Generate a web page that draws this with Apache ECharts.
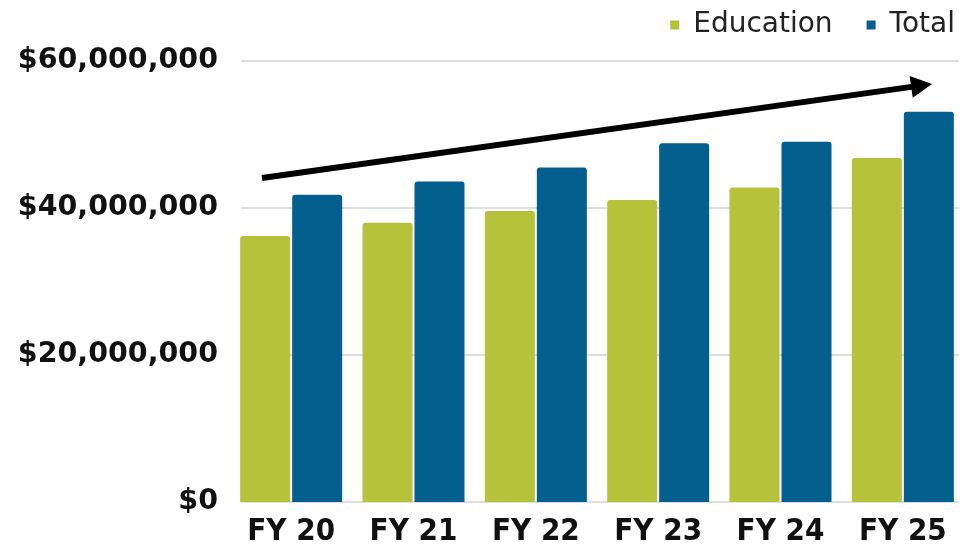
<!DOCTYPE html>
<html>
<head>
<meta charset="utf-8">
<script src="https://cdn.jsdelivr.net/npm/echarts@6/dist/echarts.min.js"></script>
<style>
html,body{margin:0;padding:0;background:#fff;}
#chart{width:964px;height:549px;}
</style>
</head>
<body>
<div id="chart"></div>
<script>
const categories = ['FY 20', 'FY 21', 'FY 22', 'FY 23', 'FY 24', 'FY 25'];
const education = [36200000, 38000000, 39600000, 41100000, 42800000, 46800000];
const total = [41800000, 43600000, 45500000, 48800000, 49000000, 53100000];
const yMin = 0, yMax = 60000000, yInterval = 20000000;

const chart = echarts.init(document.getElementById('chart'));
const money = v => '$' + Number(v).toLocaleString('en-US');

// arrow annotation geometry
const ax0 = [262, 178], tip = [932, 84];
const dx = tip[0] - ax0[0], dy = tip[1] - ax0[1];
const len = Math.sqrt(dx * dx + dy * dy);
const ux = dx / len, uy = dy / len, px = -uy, py = ux;
const hl = 21, hw = 11;
const bc = [tip[0] - hl * ux, tip[1] - hl * uy];

chart.setOption({
  animation: false,
  backgroundColor: '#fff',
  legend: {
    right: 4, top: 6,
    icon: 'rect', itemWidth: 9, itemHeight: 9, itemGap: 34,
    textStyle: { fontFamily: 'DejaVu Sans', fontSize: 28, color: '#222', padding: [0, 0, 0, 9] },
    data: ['Education', 'Total']
  },
  grid: [
    { left: 230, width: 742, top: 61, bottom: 47 },
    { left: 241, right: 5, top: 61, bottom: 47 }
  ],
  xAxis: [
    {
      type: 'category', gridIndex: 0, data: categories,
      axisLine: { show: false }, axisTick: { show: false },
      axisLabel: { margin: 14, fontFamily: 'DejaVu Sans Condensed', fontWeight: 'bold', fontSize: 31, color: '#111' }
    },
    { type: 'value', gridIndex: 1, show: false }
  ],
  yAxis: [
    {
      type: 'value', gridIndex: 0, min: yMin, max: yMax, interval: yInterval,
      splitLine: { show: false }, axisLine: { show: false }, axisTick: { show: false },
      axisLabel: { margin: 12, formatter: money, fontFamily: 'DejaVu Sans', fontWeight: 'bold', fontSize: 28.5, color: '#111' }
    },
    {
      type: 'value', gridIndex: 1, min: yMin, max: yMax, interval: yInterval,
      axisLabel: { show: false }, axisLine: { show: false }, axisTick: { show: false },
      splitLine: { show: true, lineStyle: { color: '#dedede', width: 2 } }
    }
  ],
  series: [
    {
      name: 'Education', type: 'bar', data: education, barWidth: 50, barGap: '4%',
      itemStyle: { color: '#b5c23a', borderRadius: [3, 3, 0, 0] }, z: 3
    },
    {
      name: 'Total', type: 'bar', data: total, barWidth: 50, barGap: '4%',
      itemStyle: { color: '#025f8e', borderRadius: [3, 3, 0, 0] }, z: 3
    }
  ],
  graphic: [
    {
      type: 'line', z: 10,
      shape: { x1: ax0[0], y1: ax0[1], x2: bc[0] + 2 * ux, y2: bc[1] + 2 * uy },
      style: { stroke: '#000', lineWidth: 6 }
    },
    {
      type: 'polygon', z: 10,
      shape: { points: [tip, [bc[0] + hw * px, bc[1] + hw * py], [bc[0] - hw * px, bc[1] - hw * py]] },
      style: { fill: '#000' }
    }
  ]
});
</script>
</body>
</html>
